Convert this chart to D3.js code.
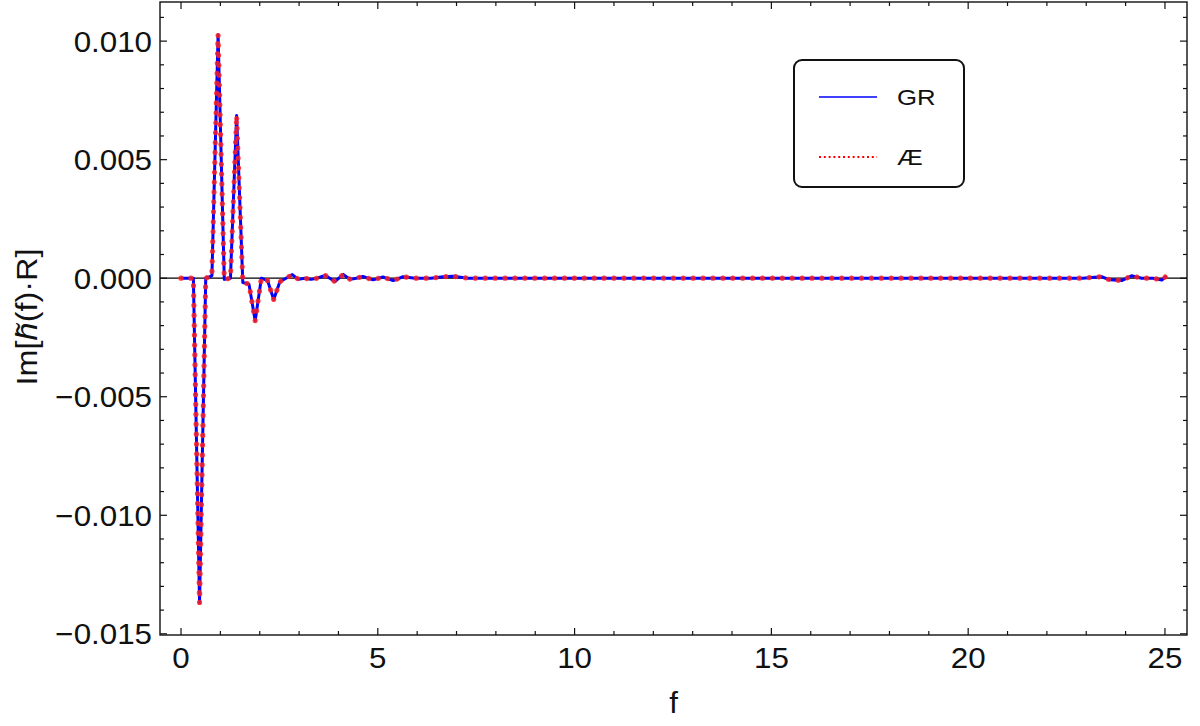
<!DOCTYPE html>
<html>
<head>
<meta charset="utf-8">
<script src="https://cdn.jsdelivr.net/npm/d3@7"></script>
<style>
  html, body { margin: 0; padding: 0; background: #fff; }
  svg { display: block; }
  text { font-family: "Liberation Sans", Arial, sans-serif; fill: #111; }
</style>
</head>
<body>
<svg id="chart" width="1200" height="726"></svg>
<script>
// ---- data ----
const freq = [0, 0.157, 0.314, 0.471, 0.628, 0.785, 0.942, 1.099, 1.256, 1.413,
  1.570, 1.727, 1.884, 2.041, 2.198, 2.355, 2.512, 2.669, 2.826, 2.983,
  3.14, 3.30, 3.46, 3.66, 3.91, 4.12, 4.30, 4.45, 4.62, 4.88, 5.13,
  5.39, 5.64, 5.95, 6.35, 6.66, 6.91, 7.30, 22.90, 23.14, 23.39, 23.60,
  23.90, 24.15, 24.41, 24.70, 24.92, 25.04];
const grValues = [0, 0, 0, -0.0137, 0, 0.0001, 0.01027, -0.00005, 0, 0.00686,
  -0.00018, -0.00025, -0.0018, 0, -0.0001, -0.0009, -0.00015, 0, 0.00015, -0.00005,
  0, -0.00005, 0, 0.00012, -0.00014, 0.00016, -0.00005, 0, 0.00007, -0.00007, 0.00005,
  -0.0001, 0.00006, 0, 0, 0.00006, 0.00008, 0, 0, 0.00003, 0.00006, -0.00007,
  -0.0001, 0.0001, 0, 0, -0.00008, 0.0001];
const aeValues = [0, 0, 0, -0.0137, 0, 0.0001, 0.01027, -0.00005, 0, 0.00686,
  -0.00018, -0.00025, -0.0018, 0, -0.0001, -0.0009, -0.00015, 0, 0.00015, -0.00005,
  0, -0.00005, 0, 0.00012, -0.00014, 0.00016, -0.00005, 0, 0.00007, -0.00007, 0.00005,
  -0.0001, 0.00006, 0, 0, 0.00006, 0.00008, 0, 0, 0.00003, 0.00006, -0.00007,
  -0.0001, 0.0001, 0, 0, -0.00008, 0.0001];
const xMajorTicks = [0, 5, 10, 15, 20, 25];
const yMajorTicks = [-0.015, -0.010, -0.005, 0.000, 0.005, 0.010];
const yTickLabels = ["\u22120.015", "\u22120.010", "\u22120.005", "0.000", "0.005", "0.010"];
const legendLabels = ["GR", "\u00C6"];

// ---- layout ----
const pLeft = 160, pRight = 1187, pTop = 2, pBottom = 635;
const svg = d3.select("#chart");
const x = d3.scaleLinear().domain([-0.534, 25.56]).range([pLeft, pRight]);
const y = d3.scaleLinear().domain([-0.01505, 0.01165]).range([pBottom, pTop]);

const xMinor = d3.range(0, 26, 1).filter(v => xMajorTicks.indexOf(v) < 0);
const yMinor = d3.range(-15, 12, 1).map(v => v / 1000).filter(v => yMajorTicks.every(t => Math.abs(t - v) > 1e-9));

const majorLen = 7, minorLen = 4;
const tickColor = "#111";
const stretch = 1.08;

// frame
svg.append("rect").attr("x", pLeft).attr("y", pTop).attr("width", pRight - pLeft).attr("height", pBottom - pTop)
  .attr("fill", "none").attr("stroke", "#111").attr("stroke-width", 1.4);

// zero axis line
svg.append("line").attr("x1", pLeft).attr("x2", pRight).attr("y1", y(0)).attr("y2", y(0))
  .attr("stroke", "#000").attr("stroke-width", 1.3);

const ticks = svg.append("g").attr("stroke", tickColor).attr("stroke-width", 1.2);
function xTick(v, len) {
  ticks.append("line").attr("x1", x(v)).attr("x2", x(v)).attr("y1", pBottom).attr("y2", pBottom - len);
  ticks.append("line").attr("x1", x(v)).attr("x2", x(v)).attr("y1", pTop).attr("y2", pTop + len);
}
function yTick(v, len) {
  ticks.append("line").attr("y1", y(v)).attr("y2", y(v)).attr("x1", pLeft).attr("x2", pLeft + len);
  ticks.append("line").attr("y1", y(v)).attr("y2", y(v)).attr("x1", pRight).attr("x2", pRight - len);
}
xMajorTicks.forEach(v => xTick(v, majorLen));
xMinor.forEach(v => xTick(v, minorLen));
yMajorTicks.forEach(v => yTick(v, majorLen));
yMinor.forEach(v => yTick(v, minorLen));

// tick labels
svg.append("g").selectAll("text").data(xMajorTicks).join("text")
  .attr("transform", d => `translate(${x(d)},668) scale(${stretch},1)`).attr("text-anchor", "middle")
  .attr("font-size", 29).text(d => d);
svg.append("g").selectAll("text").data(yMajorTicks).join("text")
  .attr("transform", d => `translate(152,${y(d)}) scale(${stretch},1)`).attr("dy", "0.36em").attr("text-anchor", "end")
  .attr("font-size", 29).text((d, i) => yTickLabels[i]);

// axis labels
svg.append("text").attr("transform", `translate(${(pLeft + pRight) / 2},713) scale(${stretch},1)`).attr("text-anchor", "middle")
  .attr("font-size", 29).text("f");
const yl = svg.append("text").attr("transform", `translate(37,317) rotate(-90) scale(${stretch},1)`)
  .attr("text-anchor", "middle").attr("font-size", 30);
yl.append("tspan").text("Im[");
yl.append("tspan").attr("font-style", "italic").text("h\u0303");
yl.append("tspan").text("(f)\u00B7R]");

// series
const pts = (vals) => freq.map((f, i) => [f, vals[i]]);
const line = d3.line().x(d => x(d[0])).y(d => y(d[1]));
svg.append("path").datum(pts(grValues)).attr("d", line)
  .attr("fill", "none").attr("stroke", "#0000ff").attr("stroke-width", 3).attr("stroke-linejoin", "round");
svg.append("path").datum(pts(aeValues)).attr("d", line)
  .attr("fill", "none").attr("stroke", "#ff2020").attr("stroke-opacity", 0.85).attr("stroke-width", 5.2)
  .attr("stroke-linecap", "round").attr("stroke-dasharray", "0.1 9.8");

// legend
const lg = svg.append("g");
lg.append("rect").attr("x", 794).attr("y", 60).attr("width", 170).attr("height", 127).attr("rx", 8)
  .attr("fill", "#fff").attr("stroke", "#111").attr("stroke-width", 2);
const legendY = [97, 157];
lg.append("line").attr("x1", 819).attr("x2", 877).attr("y1", legendY[0]).attr("y2", legendY[0])
  .attr("stroke", "#0000ff").attr("stroke-width", 1.5);
lg.append("line").attr("x1", 819).attr("x2", 877).attr("y1", legendY[1]).attr("y2", legendY[1])
  .attr("stroke", "#ff0000").attr("stroke-width", 2).attr("stroke-dasharray", "2 2.8");
lg.selectAll("text").data(legendLabels).join("text")
  .attr("transform", (d, i) => `translate(897,${legendY[i]}) scale(1.12,1)`).attr("dy", "0.36em")
  .attr("font-size", 23).text(d => d);
</script>
</body>
</html>
